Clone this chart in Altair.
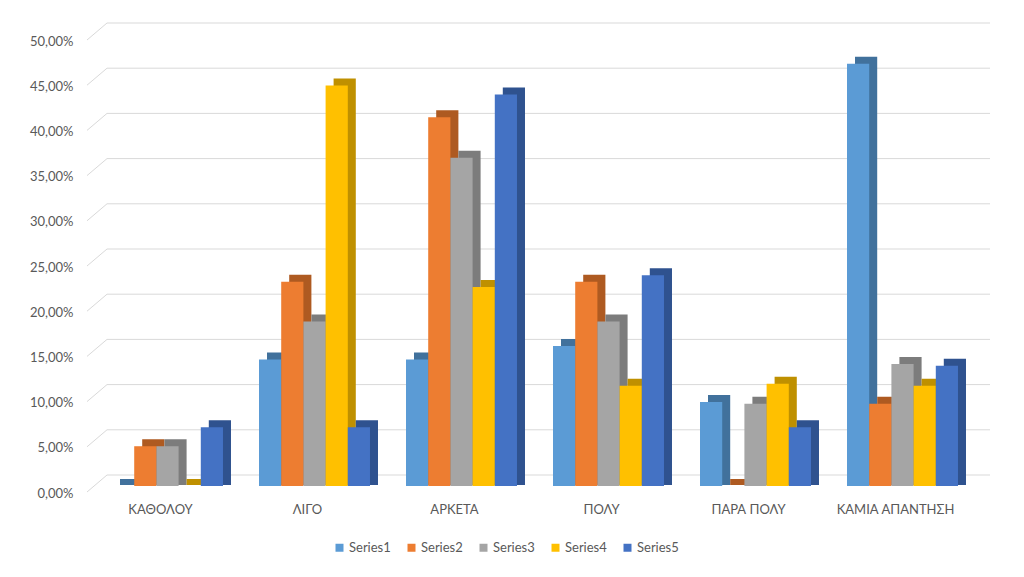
import altair as alt
import pandas as pd

categories = ["ΚΑΘΟΛΟΥ", "ΛΙΓΟ", "ΑΡΚΕΤΑ", "ΠΟΛΥ", "ΠΑΡΑ ΠΟΛΥ", "ΚΑΜΙΑ ΑΠΑΝΤΗΣΗ"]
series_names = ["Series1", "Series2", "Series3", "Series4", "Series5"]
series1 = [0.0, 14.0, 14.0, 15.5, 9.3, 46.7]
series2 = [4.4, 22.6, 40.8, 22.6, 0.0, 9.1]
series3 = [4.4, 18.2, 36.3, 18.2, 9.1, 13.5]
series4 = [0.0, 44.3, 22.0, 11.1, 11.3, 11.1]
series5 = [6.5, 6.5, 43.3, 23.3, 6.5, 13.3]
tick_values = [0.0, 0.05, 0.10, 0.15, 0.20, 0.25, 0.30, 0.35, 0.40, 0.45, 0.50]

front_colors = ["#5B9BD5", "#ED7D31", "#A5A5A5", "#FFC000", "#4472C4"]
side_colors = ["#41719C", "#AE5A21", "#7C7C7C", "#BF9000", "#2F528F"]

rows = []
for s_name, vals, dark in zip(series_names, [series1, series2, series3, series4, series5], side_colors):
    for c, v in zip(categories, vals):
        rows.append({"cat": c, "series": s_name, "val": v / 100.0, "base": 0.0, "dark": dark})
df = pd.DataFrame(rows)
grid_df = pd.DataFrame({"v": tick_values})

W, H = 896, 452
yscale = alt.Scale(domain=[0, 0.5], nice=False, zero=True)
yaxis = alt.Axis(title=None, values=tick_values, grid=False, domain=False, ticks=False,
                 labelPadding=21, labelOffset=7, labelFontSize=13, labelColor="#595959",
                 labelFont="Lato",
                 labelExpr="replace(format(datum.value, '.2%'), '.', ',')")
xoff = alt.XOffset("series:N", sort=series_names, scale=alt.Scale(paddingInner=0, paddingOuter=0))

grid_back = alt.Chart(grid_df).mark_rule(color="#D9D9D9", strokeWidth=1, yOffset=-11, y2Offset=-11).encode(
    x=alt.value(13), x2=alt.value(W), y=alt.Y("v:Q", scale=yscale, axis=yaxis), y2="v:Q"
)
grid_diag = alt.Chart(grid_df).mark_rule(color="#D9D9D9", strokeWidth=1, yOffset=6, y2Offset=-11).encode(
    x=alt.value(-7), x2=alt.value(13), y=alt.Y("v:Q", scale=yscale, axis=yaxis), y2="v:Q"
)

shadow = alt.Chart(df).mark_bar(yOffset=-7, y2Offset=-1).encode(
    x=alt.X("cat:N", sort=categories,
            scale=alt.Scale(domain=categories, range=[8, 890], paddingInner=0.245, paddingOuter=0.1225),
            axis=None),
    xOffset=xoff,
    y=alt.Y("val:Q", scale=yscale, axis=yaxis),
    y2="base:Q",
    color=alt.Color("dark:N", scale=None),
)

front = alt.Chart(df).mark_bar().encode(
    x=alt.X("cat:N", sort=categories,
            scale=alt.Scale(domain=categories, range=[0, 882], paddingInner=0.245, paddingOuter=0.1225),
            axis=alt.Axis(title=None, labelAngle=0, domain=False, ticks=False, labelPadding=17,
                          labelOffset=-7, labelFontSize=13, labelColor="#595959", labelFont="Lato")),
    xOffset=xoff,
    y=alt.Y("val:Q", scale=yscale, axis=yaxis),
    color=alt.Color("series:N", sort=series_names,
                    scale=alt.Scale(domain=series_names, range=front_colors),
                    legend=alt.Legend(title=None, orient="none", legendX=239, legendY=507,
                                      direction="horizontal", symbolType="square", symbolSize=64,
                                      symbolStrokeWidth=0, labelFontSize=13, labelColor="#595959",
                                      labelFont="Lato", columnPadding=14, labelOffset=3)),
)

chart = alt.layer(grid_back, grid_diag, shadow, front).resolve_scale(
    x="independent", xOffset="independent"
).properties(
    width=W, height=H,
    autosize=alt.AutoSizeParams(type="none"),
    padding={"left": 86, "top": 26, "right": 26, "bottom": 83},
    background="white",
).configure(font="Lato", view=alt.ViewConfig(strokeWidth=0, stroke="transparent"))

chart.save("out.html", embed_options={"renderer": "svg", "actions": False})
